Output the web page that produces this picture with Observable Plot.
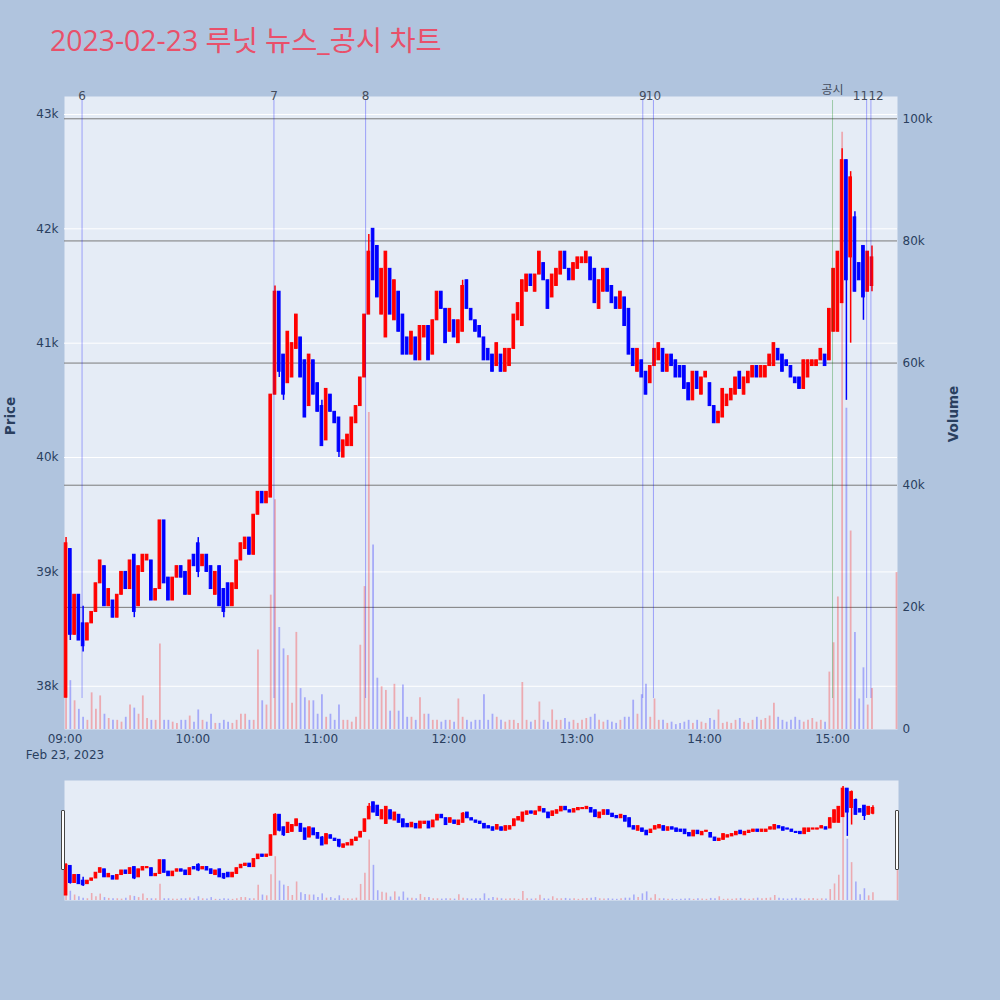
<!DOCTYPE html>
<html>
<head>
<meta charset="utf-8">
<script src="https://cdn.jsdelivr.net/npm/d3@7"></script>
<script src="https://cdn.jsdelivr.net/npm/@observablehq/plot@0.6"></script>
<style>
  html, body { margin: 0; padding: 0; background: #B0C4DE; }
  #wrap { position: relative; width: 1000px; height: 1000px; overflow: hidden; }
  .layer { position: absolute; left: 0; }
  .layer svg { overflow: visible; }
  .handle { position: absolute; width: 2px; height: 58px; background: #fff; border: 1px solid #444; border-radius: 1px; }
</style>
</head>
<body>
<div id="wrap"></div>
<script>
// ---------------- DATA (2-minute candles from 09:00) ----------------
const chartTitle = "2023-02-23 루닛 뉴스_공시 차트";
const sessionDate = "Feb 23, 2023";

const candleOpen = [
37900,39200,38450,38800,38550,38400,38550,38650,38900,39050,38700,38750,38600,38800,39000,38850,39150,38700,39000,39100,
39100,38750,38850,39450,38950,38750,38950,39050,39000,38800,39150,39250,39050,39150,39050,38800,39050,38850,38900,38700,
38850,39100,39200,39300,39150,39500,39700,39600,39650,40550,41450,40900,40650,40700,40950,41050,40850,40450,40850,40650,
40450,40150,40550,40400,40350,40000,40100,40100,40300,40450,40700,41250,42000,41850,41250,41050,41650,41200,41450,41250,
41050,40900,41050,40850,41050,41150,40900,41200,41450,41300,41100,41200,41000,41100,41550,41300,41200,41150,41050,40950,
40900,40800,40900,40750,40800,40950,41200,41150,41450,41600,41450,41600,41700,41550,41400,41500,41600,41800,41650,41550,
41650,41700,41700,41750,41650,41300,41450,41650,41500,41400,41300,41400,41300,40950,40750,40850,40750,40650,40800,40850,
40950,40750,40900,40850,40800,40800,40650,40500,40750,40550,40700,40650,40450,40300,40350,40450,40500,40550,40750,40550,
40650,40700,40800,40700,40700,40800,40800,40950,40900,40850,40800,40700,40700,40600,40700,40800,40800,40850,40900,40850,
41100,41100,41350,42600,41750,42100,41700,41850,41450,41500];

const candleClose = [
39250,38450,38800,38400,38350,38550,38650,38900,39100,38700,38850,38600,38800,39000,38850,39100,38650,39050,39150,39150,
38750,38850,39450,38900,38750,38950,39050,38950,38800,39100,39050,39000,39150,39000,38850,39000,38700,38650,38700,38900,
39100,39250,39300,39150,39500,39700,39600,39700,40550,41450,40750,40550,41100,41000,41250,40700,40350,40900,40550,40400,
40100,40600,40400,40300,40050,40150,40200,40350,40450,40700,41250,41800,41550,41400,41650,41800,41250,41550,41100,40900,
40900,41100,40850,41150,41150,40850,41200,41450,41300,41000,41300,41050,41200,41500,41300,41200,41100,41050,40850,40850,
40750,41000,40750,40950,40950,41250,41350,41550,41600,41500,41600,41800,41550,41300,41600,41650,41800,41650,41550,41700,
41750,41750,41800,41550,41350,41550,41650,41450,41350,41300,41450,41150,40900,40800,40950,40700,40550,40800,40950,41000,
40750,40900,40800,40700,40700,40600,40500,40750,40600,40700,40750,40450,40300,40400,40600,40550,40600,40700,40600,40700,
40750,40800,40700,40800,40800,40900,41000,40850,40750,40800,40700,40650,40600,40850,40850,40850,40850,40950,40800,41300,
41650,41800,42600,41550,42450,41450,41550,41400,41800,41750];

const candleVolume = [
11100,8000,4700,3300,2000,1500,6000,3300,5500,2500,1800,1500,1500,1200,2000,4000,3500,2500,5500,1800,
1500,1500,14000,1500,1500,1200,1000,1500,1500,2200,1200,3200,1500,1200,2500,1000,1000,1500,1200,1000,
1500,2500,2500,1500,1500,13000,4700,4000,22000,37600,16700,13200,12100,4300,15900,6700,5200,4700,4700,2500,
5700,2000,2500,1500,4000,1500,1500,1200,2000,13800,23400,51900,30200,8400,7000,6400,3000,7400,3000,7300,
2000,2000,1500,5200,2500,2500,1500,1500,1200,1500,1500,1200,5000,2000,1500,1200,1500,1500,5700,1500,
2500,2000,1500,1200,1500,1500,1000,7700,1500,1200,1500,4500,1500,1200,3200,1500,1500,1800,1200,1500,
1000,1500,1800,2000,2500,1500,1200,1500,1200,1000,1500,2000,2000,4800,2500,5700,7400,2000,5000,1500,
1500,1000,1200,800,1000,1200,1500,1000,1500,1200,1000,1800,1500,3200,1000,1200,1000,1500,1800,1200,
1000,1500,2000,1500,1800,2200,4300,2000,1500,1200,1500,2000,1500,1200,1500,1800,1200,1500,1200,9400,
14200,21700,97800,52600,32500,15900,5000,10100,4000,6700];

// wicks beyond the body: [candle index, low, high]
const candleWicks = [
[0,37900,39300],[1,38400,39200],[4,38300,38700],[16,38600,39150],[31,38950,39300],[37,38600,38850],
[49,40550,41500],[50,40700,41450],[51,40500,40900],[60,40100,40500],[64,40000,40350],[71,41250,41950],
[72,41550,42000],[93,41100,41550],[182,41350,42700],[183,40500,42600],[184,41000,42500],[185,41450,42150],
[187,41200,41850],[189,41450,41850]];

// closing auction print
const auctionTime = "15:30";
const auctionPrice = 42050;
const auctionVolume = 25700;

// news / disclosure markers
const newsLabels = ["6", "7", "8", "9", "10", "공시", "11", "12"];
const newsTimes = ["09:08", "10:38", "11:21", "13:31", "13:36", "15:00", "15:16", "15:18"];
const newsKinds = ["news", "news", "news", "news", "news", "disclosure", "news", "news"];
const newsAnchors = ["middle", "middle", "middle", "middle", "middle", "middle", "end", "start"];

const priceTicks = [38000, 39000, 40000, 41000, 42000, 43000];
const volumeTicks = [0, 20000, 40000, 60000, 80000, 100000];
const hourTicks = ["09:00", "10:00", "11:00", "12:00", "13:00", "14:00", "15:00"];

// ---------------- BUILD ----------------
const MIN = 60000;
const T0 = Date.UTC(2023, 1, 23, 9, 0);
const at = (hhmm) => { const [h, m] = hhmm.split(":").map(Number); return new Date(Date.UTC(2023, 1, 23, h, m)); };
const UP = "#FF0000", DOWN = "#0000FF";

const candles = candleOpen.map((o, i) => {
  const c = candleClose[i];
  const w = candleWicks.find(d => d[0] === i);
  return {
    t: new Date(T0 + (2 * i + 0.5) * MIN),
    o, c,
    h: Math.max(o, c, w ? w[2] : -Infinity),
    l: Math.min(o, c, w ? w[1] : Infinity),
    v: candleVolume[i],
    color: c >= o ? UP : DOWN,
    half: 0.62
  };
});
candles.push({ t: at(auctionTime), o: auctionPrice, c: auctionPrice, h: auctionPrice, l: auctionPrice, v: auctionVolume, color: UP, half: 0.2 });

const news = newsLabels.map((label, i) => ({
  label, t: at(newsTimes[i]), kind: newsKinds[i], anchor: newsAnchors[i],
  stroke: newsKinds[i] === "news" ? "#0000ff" : "#008000"
}));

const xDomain = [new Date(T0 - 14 * 1000), new Date(T0 + 390.47 * MIN)];
const FONT = "'DejaVu Sans', 'Noto Sans CJK KR', sans-serif";
const INK = "#2a3f5f";
const W = 1000, H = 780;
const M = { marginLeft: 64, marginRight: 103, marginTop: 96, marginBottom: 51 };
const baseStyle = { background: "transparent", fontFamily: FONT, fontSize: "12px", color: INK, overflow: "visible" };
const priceDomain = [37622, 43157];

const wrap = document.getElementById("wrap");
function addLayer(node, top) {
  const d = document.createElement("div");
  d.className = "layer";
  d.style.top = top + "px";
  d.appendChild(node);
  wrap.appendChild(d);
}

// title
const titleSvg = d3.create("svg").attr("width", 1000).attr("height", 70);
titleSvg.append("text").attr("x", 50).attr("y", 50.5)
  .attr("font-family", "'Open Sans', 'Noto Sans CJK KR', sans-serif").attr("font-size", 28.4)
  .attr("fill", "#E9506A").text(chartTitle);
addLayer(titleSvg.node(), 0);

// layer 1: background, price grid, axes
addLayer(Plot.plot({
  width: W, height: H, ...M, style: baseStyle,
  x: { type: "utc", domain: xDomain },
  y: { domain: priceDomain },
  marks: [
    Plot.frame({ fill: "#E5ECF6", stroke: "none" }),
    Plot.gridY(priceTicks, { stroke: "#ffffff", strokeOpacity: 1, strokeWidth: 1 }),
    Plot.axisY(priceTicks, { tickSize: 0, tickPadding: 6, tickFormat: d => d / 1000 + "k", label: null, fill: INK }),
    Plot.axisX(hourTicks.map(at), { tickSize: 0, tickPadding: 5, tickFormat: d3.utcFormat("%H:%M"), label: null, fill: INK }),
    Plot.text([at(hourTicks[0])], { x: d => d, text: () => sessionDate, frameAnchor: "bottom", lineAnchor: "top", dy: 21, fill: INK }),
    Plot.text(["Price"], { text: d => d, frameAnchor: "left", textAnchor: "middle", dx: -54, dy: 3, rotate: -90, fontWeight: "bold", fontSize: 13.5, fill: INK })
  ]
}), 0);

// layer 2: volume
addLayer(Plot.plot({
  width: W, height: H, ...M, style: baseStyle,
  x: { type: "utc", domain: xDomain, axis: null },
  y: { domain: [0, 103650] },
  color: { type: "identity" },
  marks: [
    Plot.gridY(volumeTicks.slice(1), { stroke: "#7a7a7a", strokeOpacity: 1, strokeWidth: 1 }),
    Plot.ruleX(candles, { x: "t", y1: 0, y2: "v", stroke: "color", strokeOpacity: 0.28, strokeWidth: 1.8 }),
    Plot.axisY(volumeTicks, { anchor: "right", tickSize: 0, tickPadding: 5, tickFormat: d => d === 0 ? "0" : d / 1000 + "k", label: null, fill: INK }),
    Plot.text(["Volume"], { text: d => d, frameAnchor: "right", textAnchor: "middle", dx: 56, dy: 1, rotate: -90, fontWeight: "bold", fontSize: 13.5, fill: INK })
  ]
}), 0);

// layer 3: candles + news markers
const labelMarks = ["middle", "end", "start"].flatMap(anchor => {
  const dx = anchor === "end" ? 1.5 : anchor === "start" ? -2.5 : 0;
  return [
    Plot.text(news.filter(d => d.kind === "news" && d.anchor === anchor), { x: "t", text: "label", frameAnchor: "top", lineAnchor: "middle", textAnchor: anchor, dx, dy: 0, fill: "#444c5c" }),
    Plot.text(news.filter(d => d.kind !== "news" && d.anchor === anchor), { x: "t", text: "label", frameAnchor: "top", lineAnchor: "middle", textAnchor: anchor, dx, dy: -6, fill: "#444c5c" })
  ];
});
addLayer(Plot.plot({
  width: W, height: H, ...M, style: baseStyle,
  x: { type: "utc", domain: xDomain, axis: null },
  y: { domain: priceDomain, axis: null },
  color: { type: "identity" },
  marks: [
    Plot.ruleX(candles, { x: "t", y1: "l", y2: "h", stroke: "color", strokeWidth: 1.5 }),
    Plot.rect(candles, {
      x1: d => new Date(+d.t - d.half * MIN), x2: d => new Date(+d.t + d.half * MIN),
      y1: "o", y2: "c", fill: "color", stroke: "color", strokeWidth: 1
    }),
    Plot.ruleX(news, { x: "t", stroke: "stroke", strokeOpacity: 0.32, strokeWidth: 1, insetTop: 4, insetBottom: 31 }),
    ...labelMarks
  ]
}), 0);

// range slider
const S = { marginLeft: 64, marginRight: 102, marginTop: 0, marginBottom: 0 };
addLayer(Plot.plot({
  width: W, height: 120, ...S, style: baseStyle,
  x: { type: "utc", domain: xDomain, axis: null },
  y: { domain: [0, 103000], axis: null },
  color: { type: "identity" },
  marks: [
    Plot.frame({ fill: "#E5ECF6", stroke: "none" }),
    Plot.ruleX(candles, { x: "t", y1: 0, y2: "v", stroke: "color", strokeOpacity: 0.28, strokeWidth: 1.6 })
  ]
}), 780);
addLayer(Plot.plot({
  width: W, height: 120, ...S, style: baseStyle,
  x: { type: "utc", domain: xDomain, axis: null },
  y: { domain: [37680, 42960], axis: null },
  color: { type: "identity" },
  marks: [
    Plot.ruleX(candles, { x: "t", y1: "l", y2: "h", stroke: "color", strokeWidth: 1.5 }),
    Plot.rect(candles, {
      x1: d => new Date(+d.t - d.half * MIN), x2: d => new Date(+d.t + d.half * MIN),
      y1: "o", y2: "c", fill: "color", stroke: "color", strokeWidth: 1
    })
  ]
}), 780);

for (const left of [61, 895]) {
  const h = document.createElement("div");
  h.className = "handle";
  h.style.left = left + "px";
  h.style.top = "810px";
  wrap.appendChild(h);
}
</script>
</body>
</html>
